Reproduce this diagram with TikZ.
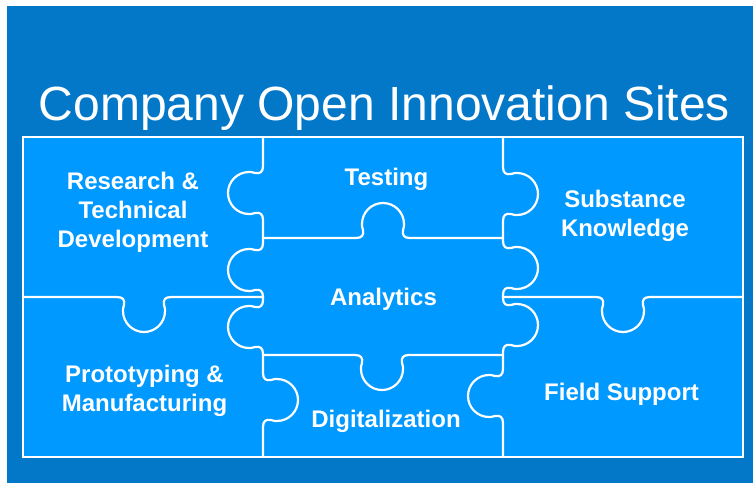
\documentclass[tikz,border=0pt]{standalone}
\usepackage{fontspec}
\setmainfont{Liberation Sans}
\definecolor{bgblue}{HTML}{0377C8}
\definecolor{pieceblue}{HTML}{0099FF}
% point in knob-local coordinates (t along edge, n outward)
\def\kpa#1#2#3,#4,#5,#6,#7,#8\relax{({#3+(#1)*(#5)+(#2)*(#7)},{#4+(#1)*(#6)+(#2)*(#8)})}
\def\kp#1#2#3{\kpa{#1}{#2}#3\relax}
% knob: #1 = X,Y,ax,ay,dx,dy
\def\kn#1{-- \kp{-27}{0}{#1} .. controls \kp{-21}{0}{#1} and \kp{-19}{3}{#1} .. \kp{-20}{8}{#1}
 .. controls \kp{-21}{11}{#1} and \kp{-21}{12}{#1} .. \kp{-21}{14}{#1}
 .. controls \kp{-21}{25.6}{#1} and \kp{-11.6}{35}{#1} .. \kp{0}{35}{#1}
 .. controls \kp{11.6}{35}{#1} and \kp{21}{25.6}{#1} .. \kp{21}{14}{#1}
 .. controls \kp{21}{12}{#1} and \kp{21}{11}{#1} .. \kp{20}{8}{#1}
 .. controls \kp{19}{3}{#1} and \kp{21}{0}{#1} .. \kp{27}{0}{#1}}
\tikzset{
  pline/.style={draw=white, line width=2.2pt, line cap=round, line join=round},
  frameline/.style={draw=white, line width=2.6pt},
  label/.style={text=white, font=\fontsize{24}{29}\selectfont\bfseries, inner sep=0pt, align=center},
  titletext/.style={text=white, font=\fontsize{48}{58}\selectfont, inner sep=0pt}
}
\begin{document}
\begin{tikzpicture}[x=1pt, y=-1pt]
\useasboundingbox (0,0) rectangle (753,483);
\fill[white] (0,0) rectangle (753,483);
\fill[bgblue] (7,6) rectangle (753,483);
\node[titletext, anchor=base] (title) at (384.5,120) {Company Open Innovation Sites};
% puzzle area
\fill[pieceblue] (23,137) rectangle (743,457);
% column boundaries
\draw[pline] (263,137) \kn{263,193,0,1,-1,0} \kn{263,270,0,1,-1,0} \kn{263,327,0,1,-1,0} \kn{263,400,0,1,1,0} -- (263,457);
\draw[pline] (503,137) \kn{503,194,0,1,1,0} \kn{503,268,0,1,1,0} \kn{503,325,0,1,1,0} \kn{503,396,0,1,-1,0} -- (503,457);
% row boundaries
\draw[pline] (23,297) \kn{144,297,1,0,0,1} -- (263,297);
\draw[pline] (503,297) \kn{623,297,1,0,0,1} -- (743,297);
\draw[pline] (263,238) \kn{383,238,1,0,0,-1} -- (503,238);
\draw[pline] (263,355) \kn{382,355,1,0,0,1} -- (503,355);
\draw[frameline] (23,137) rectangle (743,457);
% labels
\node[label] (rtd) at (133,212) {Research \&\\Technical\\Development};
\node[label, anchor=base] (testing) at (386.5,185) {Testing};
\node[label] (subst) at (625,216) {Substance\\Knowledge};
\node[label, anchor=base] (analytics) at (383.5,305) {Analytics};
\node[label] (proto) at (144.5,391) {Prototyping \&\\Manufacturing};
\node[label, anchor=base] (digital) at (386,427) {Digitalization};
\node[label, anchor=base] (field) at (621.5,400) {Field Support};
\end{tikzpicture}
\end{document}
